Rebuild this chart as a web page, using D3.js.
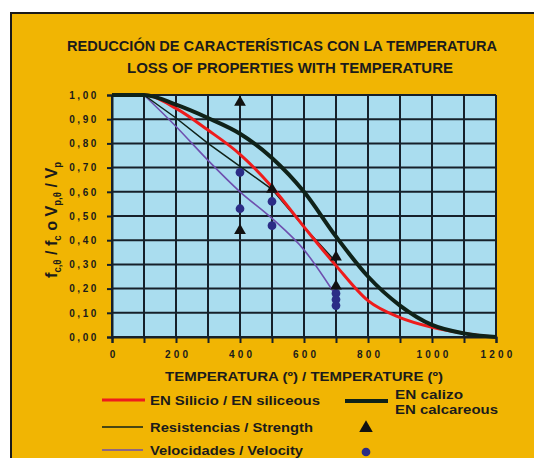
<!DOCTYPE html>
<html><head><meta charset="utf-8">
<script src="https://cdn.jsdelivr.net/npm/d3@7"></script>
<style>
html,body{margin:0;padding:0;background:#fff;}
svg{display:block;}
text{font-family:"Liberation Sans",Arial,sans-serif;font-weight:bold;fill:#1b1b1b;}
</style></head>
<body>
<script>
// ---- data ----
const temps = [0,100,200,300,400,500,600,700,800,900,1000,1100,1200];
const siliceous = [1.00,1.00,0.945,0.855,0.755,0.62,0.455,0.295,0.15,0.08,0.04,0.015,0.00];
const calcareous = [1.00,1.00,0.96,0.905,0.84,0.74,0.60,0.415,0.25,0.13,0.05,0.015,0.00];
const strengthT = [100,200,300,400,500,600,700];
const strengthV = [1.00,0.905,0.80,0.705,0.61,0.455,0.31];
const velocityT = [100,200,300,400,500,600,700];
const velocityV = [1.00,0.87,0.73,0.60,0.49,0.36,0.17];
const triT = [400,400,500,700,700];
const triV = [0.97,0.44,0.61,0.33,0.21];
const dotT = [400,400,500,500,700,700,700];
const dotV = [0.68,0.53,0.56,0.46,0.18,0.155,0.13];
const xTicks = [0,200,400,600,800,1000,1200];
const yTicks = [0,0.1,0.2,0.3,0.4,0.5,0.6,0.7,0.8,0.9,1.0];
const yTickLabels = ["0,00","0,10","0,20","0,30","0,40","0,50","0,60","0,70","0,80","0,90","1,00"];
const titleLines = ["REDUCCIÓN DE CARACTERÍSTICAS CON LA TEMPERATURA","LOSS OF PROPERTIES WITH TEMPERATURE"];
const xTitle = "TEMPERATURA (º) / TEMPERATURE (º)";

const W=534,H=458;
const C={bg:"#F1B503",plot:"#AADDEF",grid:"#16202a",red:"#EE1C1C",black:"#0f2219",purple:"#6E4FAE",navy:"#2B2C86"};
const svg=d3.select("body").append("svg").attr("width",W).attr("height",H);
svg.append("rect").attr("width",W).attr("height",H).attr("fill","#fff");
svg.append("rect").attr("x",11).attr("y",13).attr("width",W).attr("height",H)
  .attr("fill",C.bg).attr("stroke","#1a1a1a").attr("stroke-width",2);

const x=d3.scaleLinear().domain([0,1200]).range([112,496]);
const y=d3.scaleLinear().domain([0,1]).range([337,95]);

// plot background
svg.append("rect").attr("x",x(0)).attr("y",y(1)).attr("width",x(1200)-x(0)).attr("height",y(0)-y(1)).attr("fill",C.plot);

// grid
const g=svg.append("g");
g.selectAll("line.v").data(d3.range(0,1201,100)).join("line")
 .attr("x1",d=>x(d)).attr("x2",d=>x(d)).attr("y1",y(1)).attr("y2",y(0))
 .attr("stroke",C.grid).attr("stroke-width",2);
g.selectAll("line.h").data(yTicks).join("line")
 .attr("x1",x(0)).attr("x2",x(1200)).attr("y1",d=>y(d)).attr("y2",d=>y(d))
 .attr("stroke",C.grid).attr("stroke-width",2);

// axes
const xAxis=svg.append("g").attr("transform",`translate(0,${y(0)})`)
 .call(d3.axisBottom(x).tickValues(d3.range(0,1201,100)).tickSize(6).tickFormat(d=>xTicks.includes(d)?d:""));
xAxis.select(".domain").attr("stroke",C.grid).attr("stroke-width",2);
xAxis.selectAll(".tick line").attr("stroke",C.grid).attr("stroke-width",2);
xAxis.selectAll(".tick text").attr("font-size",10).attr("letter-spacing","3.2px").attr("dx","1.6px").attr("y",14).attr("fill","#1b1b1b").style("font-family","Liberation Sans, Arial").style("font-weight","bold");

const yAxis=svg.append("g").attr("transform",`translate(${x(0)},0)`)
 .call(d3.axisLeft(y).tickValues(yTicks).tickSize(5).tickFormat((d,i)=>yTickLabels[i]));
yAxis.select(".domain").attr("stroke",C.grid).attr("stroke-width",2);
yAxis.selectAll(".tick line").attr("stroke",C.grid).attr("stroke-width",2);
yAxis.selectAll(".tick text").attr("font-size",10).attr("letter-spacing","2.6px").attr("x",-13).attr("fill","#1b1b1b").style("font-family","Liberation Sans, Arial").style("font-weight","bold");

// lines
const line=d3.line().x(d=>x(d[0])).y(d=>y(d[1])).curve(d3.curveMonotoneX);
const lineL=d3.line().x(d=>x(d[0])).y(d=>y(d[1]));
svg.append("path").datum(velocityT.map((t,i)=>[t,velocityV[i]])).attr("d",line).attr("fill","none").attr("stroke",C.purple).attr("stroke-width",1.6);
svg.append("path").datum(strengthT.map((t,i)=>[t,strengthV[i]])).attr("d",lineL).attr("fill","none").attr("stroke",C.black).attr("stroke-width",1.5);
svg.append("path").datum(temps.map((t,i)=>[t,siliceous[i]])).attr("d",line).attr("fill","none").attr("stroke",C.red).attr("stroke-width",3);
svg.append("path").datum(temps.map((t,i)=>[t,calcareous[i]])).attr("d",line).attr("fill","none").attr("stroke",C.black).attr("stroke-width",4);

// markers
const tri=d3.symbol().type(d3.symbolTriangle).size(60);
const dia=d3.symbol().type(d3.symbolCircle).size(60);
svg.selectAll("path.dot").data(dotT.map((t,i)=>[t,dotV[i]])).join("path")
 .attr("d",dia).attr("transform",d=>`translate(${x(d[0])},${y(d[1])})`).attr("fill",C.navy);
svg.selectAll("path.tri").data(triT.map((t,i)=>[t,triV[i]])).join("path")
 .attr("d",tri).attr("transform",d=>`translate(${x(d[0])},${y(d[1])})`).attr("fill","#111");

// titles
svg.append("text").attr("x",282).attr("y",51).attr("text-anchor","middle").attr("font-size",14)
 .attr("textLength",430).attr("lengthAdjust","spacingAndGlyphs").text(titleLines[0]);
svg.append("text").attr("x",290).attr("y",73).attr("text-anchor","middle").attr("font-size",14)
 .attr("textLength",326).attr("lengthAdjust","spacingAndGlyphs").text(titleLines[1]);
svg.append("text").attr("x",304).attr("y",381).attr("text-anchor","middle").attr("font-size",13.5)
 .attr("textLength",278).attr("lengthAdjust","spacingAndGlyphs").text(xTitle);

// y title with subscripts
const yt=svg.append("text").attr("transform","translate(57,220) rotate(-90)").attr("text-anchor","middle").attr("font-size",17)
 .attr("textLength",116).attr("lengthAdjust","spacingAndGlyphs");
const parts=[["f",""],["c,θ","sub"],[" / f",""],["c","sub"],[" o V",""],["p,θ","sub"],[" / V",""],["p","sub"]];
parts.forEach((p,i)=>{
  const ts=yt.append("tspan").text(p[0]);
  if(p[1]==="sub") ts.attr("font-size",10).attr("dy",4);
  else ts.attr("dy",i>0?-4:0);
});

// legend
const lg=svg.append("g");
lg.append("line").attr("x1",102).attr("x2",145).attr("y1",400).attr("y2",400).attr("stroke",C.red).attr("stroke-width",3);
lg.append("text").attr("x",150).attr("y",405).attr("font-size",13.5).attr("textLength",170).attr("lengthAdjust","spacingAndGlyphs").text("EN Silicio / EN siliceous");
lg.append("line").attr("x1",345).attr("x2",388).attr("y1",401).attr("y2",401).attr("stroke",C.black).attr("stroke-width",4);
lg.append("text").attr("x",395).attr("y",399).attr("font-size",13.5).attr("textLength",68).attr("lengthAdjust","spacingAndGlyphs").text("EN calizo");
lg.append("text").attr("x",395).attr("y",414).attr("font-size",13.5).attr("textLength",103).attr("lengthAdjust","spacingAndGlyphs").text("EN calcareous");
lg.append("line").attr("x1",102).attr("x2",143).attr("y1",427).attr("y2",427).attr("stroke",C.black).attr("stroke-width",1.5);
lg.append("text").attr("x",150).attr("y",432).attr("font-size",13.5).attr("textLength",163).attr("lengthAdjust","spacingAndGlyphs").text("Resistencias / Strength");
lg.append("line").attr("x1",102).attr("x2",143).attr("y1",450).attr("y2",450).attr("stroke",C.purple).attr("stroke-width",1.6);
lg.append("text").attr("x",150).attr("y",455).attr("font-size",13.5).attr("textLength",153).attr("lengthAdjust","spacingAndGlyphs").text("Velocidades / Velocity");
lg.append("path").attr("d",d3.symbol().type(d3.symbolTriangle).size(80)).attr("transform","translate(366,428)").attr("fill","#111");
lg.append("path").attr("d",dia).attr("transform","translate(366,452)").attr("fill",C.navy);
</script>
</body></html>
